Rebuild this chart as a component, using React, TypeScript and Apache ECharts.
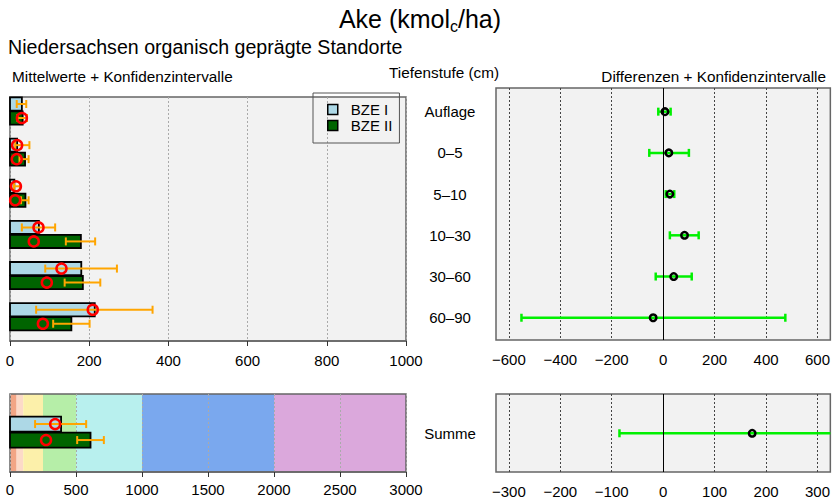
import React, { useEffect, useRef } from "react";
import * as echarts from "echarts";

// ---------- data ----------
const categories = ["Auflage", "0–5", "5–10", "10–30", "30–60", "60–90"];
const seriesNames = ["BZE I", "BZE II"];

const bze1Mean = [30, 18, 11, 73, 180, 214];
const bze1Median: (number | null)[] = [null, 18, 15, 72, 130, 209];
const bze1Lower = [17, 13, 10, 30, 89, 66];
const bze1Upper = [41, 49, 25, 114, 270, 360];

const bze2Mean = [32, 38, 39, 179, 184, 155];
const bze2Median: (number | null)[] = [30, 17, 13, 60, 93, 83];
const bze2Lower = [19, 24, 28, 141, 138, 109];
const bze2Upper = [43, 47, 47, 215, 228, 201];

const sumLabel = ["Summe"];
const sumMean = [387, 610]; // BZE I, BZE II
const sumMedian = [342, 273];
const sumLower = [190, 509];
const sumUpper = [577, 711];

const diffMean = [7, 22, 26, 83, 41, -39];
const diffLower = [-19, -54, 10, 26, -29, -551];
const diffUpper = [29, 100, 43, 138, 111, 475];
const sumDiffMean = [173];
const sumDiffLower = [-85];
const sumDiffUpper = [430];

const topLeftTicks = [0, 200, 400, 600, 800, 1000];
const bottomLeftTicks = [0, 500, 1000, 1500, 2000, 2500, 3000];
const topRightTicks = [-600, -400, -200, 0, 200, 400, 600];
const bottomRightTicks = [-300, -200, -100, 0, 100, 200, 300];

const classBreaks = [0, 50, 100, 250, 500, 1000, 2000, 3000];
const classColors = ["#f2a585", "#fcdac8", "#fcf0aa", "#b6eea8", "#b8f0ee", "#7aa8ee", "#dba8dc"];

// ---------- styles ----------
const FONT = "Liberation Sans, Arial, Helvetica, sans-serif";
const PANEL_BG = "#f2f2f2";
const FRAME = "#666";
const C_BZE1 = "#add8e6";
const C_BZE2 = "#006400";
const C_ORANGE = "#ffa500";
const C_GREEN = "#00f000";
const BAR_H = 0.32;
const OFF = 0.17;

const minus = (v: number) => String(v).replace("-", "−");

function barRender(fill: string) {
  return (params: any, api: any) => {
    const v = api.value(0);
    const p = api.value(1);
    const a = api.coord([0, p - BAR_H / 2]);
    const b = api.coord([v, p + BAR_H / 2]);
    return {
      type: "rect",
      shape: { x: a[0], y: Math.min(a[1], b[1]), width: b[0] - a[0], height: Math.abs(b[1] - a[1]) },
      style: { fill, stroke: "#000", lineWidth: 1.8 },
    };
  };
}

function errRender(color: string, cap: number, lw: number) {
  return (params: any, api: any) => {
    const cs = params.coordSys;
    const lo = api.coord([api.value(0), api.value(2)]);
    const hi = api.coord([api.value(1), api.value(2)]);
    const xmin = cs.x;
    const xmax = cs.x + cs.width;
    const x1 = Math.max(lo[0], xmin);
    const x2 = Math.min(hi[0], xmax);
    const y = lo[1];
    const st = { stroke: color, lineWidth: lw };
    const children: any[] = [{ type: "line", shape: { x1, y1: y, x2, y2: y }, style: st }];
    if (lo[0] >= xmin) children.push({ type: "line", shape: { x1: lo[0], y1: y - cap, x2: lo[0], y2: y + cap }, style: st });
    if (hi[0] <= xmax) children.push({ type: "line", shape: { x1: hi[0], y1: y - cap, x2: hi[0], y2: y + cap }, style: st });
    return { type: "group", children };
  };
}

function bandRender(params: any, api: any) {
  const cs = params.coordSys;
  const a = api.coord([api.value(0), 0]);
  const b = api.coord([api.value(1), 0]);
  return {
    type: "rect",
    shape: { x: a[0], y: cs.y, width: b[0] - a[0], height: cs.height },
    style: { fill: classColors[api.value(2)] },
  };
}

const redCircle = {
  type: "scatter",
  symbol: "circle",
  symbolSize: 10,
  itemStyle: { color: "rgba(0,0,0,0)", borderColor: "#ff0000", borderWidth: 2.5, opacity: 1 },
  z: 5,
  silent: true,
};
const blackCircle = {
  type: "scatter",
  symbol: "circle",
  symbolSize: 6.5,
  itemStyle: { color: "rgba(0,0,0,0)", borderColor: "#000", borderWidth: 2.5, opacity: 1 },
  z: 5,
  silent: true,
};

function leftXAxis(grid: number, max: number, interval: number, ticks: number[], margin: number) {
  return {
    type: "value",
    gridIndex: grid,
    min: 0,
    max,
    interval,
    z: grid === 1 ? 1.5 : 0,
    axisLine: { show: true, onZero: false, lineStyle: { color: FRAME, width: 1.5 } },
    axisTick: { show: true, length: 5, inside: false, lineStyle: { color: "#333", width: 1 } },
    axisLabel: {
      show: true,
      customValues: ticks,
      fontSize: 15,
      fontFamily: FONT,
      color: "#000",
      margin,
      formatter: (v: number) => String(v),
    },
    splitLine: { show: true, lineStyle: { color: "#aaa", type: [2, 2], width: 1 } },
  };
}

function rightXAxis(grid: number, lim: number, ticks: number[], margin: number) {
  return {
    type: "value",
    gridIndex: grid,
    min: -lim,
    max: lim,
    axisLine: { show: false, onZero: false },
    axisTick: { show: false, customValues: ticks },
    axisLabel: {
      show: true,
      customValues: ticks,
      fontSize: 15,
      fontFamily: FONT,
      color: "#000",
      margin,
      formatter: (v: number) => minus(v),
    },
    splitLine: { show: true, lineStyle: { color: "#444", type: [2, 2], width: 1 } },
  };
}

export default function App() {
  const ref = useRef<HTMLDivElement>(null);

  useEffect(() => {
    if (!ref.current) return;
    const chart = echarts.init(ref.current, null, { renderer: "svg" });

    const idx = categories.map((_, i) => i);
    const bandData = classBreaks.slice(0, -1).map((b, i) => [b, classBreaks[i + 1], i]);

    const medData = (arr: (number | null)[], off: number) =>
      arr.map((m, i) => (m == null ? null : [m, i + off])).filter((d) => d != null);

    const subTitleSize = 15.3;

    const option: any = {
      animation: false,
      backgroundColor: "#fff",
      textStyle: { fontFamily: FONT },
      graphic: [
        {
          type: "text",
          x: 420,
          y: 19,
          style: {
            text: "{a|Ake (kmol}{s|c}{a|/ha)}",
            rich: {
              a: { fontSize: 25, fontFamily: FONT, fill: "#000", verticalAlign: "middle", lineHeight: 28 },
              s: { fontSize: 16, fontFamily: FONT, fill: "#000", verticalAlign: "middle", lineHeight: 16, padding: [14, 0, 0, 0] },
            },
            textAlign: "center",
            textVerticalAlign: "middle",
          },
        },
        {
          type: "text",
          x: 8,
          y: 47,
          style: { text: "Niedersachsen organisch geprägte Standorte", fontSize: 19.6, fontFamily: FONT, fill: "#000", textVerticalAlign: "middle" },
        },
        {
          type: "text",
          x: 12,
          y: 76,
          style: { text: "Mittelwerte + Konfidenzintervalle", fontSize: subTitleSize, fontFamily: FONT, fill: "#000", textVerticalAlign: "middle" },
        },
        {
          type: "text",
          x: 444,
          y: 72,
          style: { text: "Tiefenstufe (cm)", fontSize: subTitleSize, fontFamily: FONT, fill: "#000", textAlign: "center", textVerticalAlign: "middle" },
        },
        {
          type: "text",
          x: 826,
          y: 76,
          style: { text: "Differenzen + Konfidenzintervalle", fontSize: subTitleSize, fontFamily: FONT, fill: "#000", textAlign: "right", textVerticalAlign: "middle" },
        },
      ],
      legend: {
        data: [
          { name: seriesNames[0], itemStyle: { color: C_BZE1, borderColor: "#000", borderWidth: 1.5 } },
          { name: seriesNames[1], itemStyle: { color: C_BZE2, borderColor: "#000", borderWidth: 1.5 } },
        ],
        orient: "vertical",
        left: 313,
        top: 93,
        padding: [9, 7, 10, 14],
        itemGap: 1,
        itemWidth: 10,
        itemHeight: 10,
        icon: "rect",
        borderColor: "#555",
        borderWidth: 1,
        selectedMode: false,
        textStyle: { fontSize: 15, fontFamily: FONT, color: "#000", padding: [0, 0, 0, 8] },
      },
      grid: [
        { left: 10, top: 97, width: 396, height: 244, show: true, backgroundColor: PANEL_BG, borderColor: FRAME, borderWidth: 1.5 },
        { left: 10, top: 394, width: 396, height: 78, show: true, backgroundColor: "rgba(0,0,0,0)", borderColor: FRAME, borderWidth: 1.5, z: 1.2 },
        { left: 496, top: 88, width: 335, height: 252, show: true, backgroundColor: PANEL_BG, borderColor: FRAME, borderWidth: 1.5 },
        { left: 496, top: 394, width: 335, height: 78, show: true, backgroundColor: PANEL_BG, borderColor: FRAME, borderWidth: 1.5 },
      ],
      xAxis: [
        leftXAxis(0, 1000, 200, topLeftTicks, 12),
        leftXAxis(1, 3000, 500, bottomLeftTicks, 10),
        rightXAxis(2, 650, topRightTicks, 12),
        rightXAxis(3, 325, bottomRightTicks, 12),
      ],
      yAxis: [
        { type: "value", gridIndex: 0, min: -0.34, max: 5.59, inverse: true, show: false },
        { type: "value", gridIndex: 1, min: -0.81, max: 0.85, inverse: true, show: false },
        {
          type: "value",
          gridIndex: 2,
          min: -0.574,
          max: 5.54,
          inverse: true,
          axisLine: { show: false, onZero: false },
          axisTick: { show: false },
          splitLine: { show: false },
          axisLabel: {
            show: true,
            customValues: idx,
            formatter: (v: number) => categories[Math.round(v)] ?? "",
            align: "center",
            margin: 46,
            fontSize: 15,
            fontFamily: FONT,
            color: "#000",
          },
        },
        {
          type: "value",
          gridIndex: 3,
          min: -0.836,
          max: 0.824,
          inverse: true,
          axisLine: { show: false, onZero: false },
          axisTick: { show: false },
          splitLine: { show: false },
          axisLabel: {
            show: true,
            customValues: [0],
            formatter: () => sumLabel[0],
            align: "center",
            margin: 46,
            fontSize: 15,
            fontFamily: FONT,
            color: "#000",
          },
        },
      ],
      series: [
        // class bands (bottom-left)
        { type: "custom", name: "Klassen", xAxisIndex: 1, yAxisIndex: 1, z: 1, silent: true, renderItem: bandRender, data: bandData },
        // top-left bars
        { type: "custom", name: seriesNames[0], xAxisIndex: 0, yAxisIndex: 0, z: 2, renderItem: barRender(C_BZE1), itemStyle: { color: C_BZE1 }, data: bze1Mean.map((v, i) => [v, i - OFF]) },
        { type: "custom", name: seriesNames[1], xAxisIndex: 0, yAxisIndex: 0, z: 2, renderItem: barRender(C_BZE2), itemStyle: { color: C_BZE2 }, data: bze2Mean.map((v, i) => [v, i + OFF]) },
        { type: "custom", name: "KI I", xAxisIndex: 0, yAxisIndex: 0, z: 3, renderItem: errRender(C_ORANGE, 4, 2), data: bze1Lower.map((l, i) => [l, bze1Upper[i], i - OFF]) },
        { type: "custom", name: "KI II", xAxisIndex: 0, yAxisIndex: 0, z: 3, renderItem: errRender(C_ORANGE, 4, 2), data: bze2Lower.map((l, i) => [l, bze2Upper[i], i + OFF]) },
        { ...redCircle, name: "Median I", xAxisIndex: 0, yAxisIndex: 0, data: medData(bze1Median, -OFF) },
        { ...redCircle, name: "Median II", xAxisIndex: 0, yAxisIndex: 0, data: medData(bze2Median, OFF) },
        // bottom-left bars
        { type: "custom", name: seriesNames[0], xAxisIndex: 1, yAxisIndex: 1, z: 2, renderItem: barRender(C_BZE1), itemStyle: { color: C_BZE1 }, data: [[sumMean[0], -OFF]] },
        { type: "custom", name: seriesNames[1], xAxisIndex: 1, yAxisIndex: 1, z: 2, renderItem: barRender(C_BZE2), itemStyle: { color: C_BZE2 }, data: [[sumMean[1], OFF]] },
        { type: "custom", name: "Summe KI", xAxisIndex: 1, yAxisIndex: 1, z: 3, renderItem: errRender(C_ORANGE, 4, 2), data: [[sumLower[0], sumUpper[0], -OFF], [sumLower[1], sumUpper[1], OFF]] },
        { ...redCircle, name: "Summe Median", xAxisIndex: 1, yAxisIndex: 1, data: [[sumMedian[0], -OFF], [sumMedian[1], OFF]] },
        // top-right differences
        {
          type: "custom",
          name: "Diff KI",
          xAxisIndex: 2,
          yAxisIndex: 2,
          z: 3,
          renderItem: errRender(C_GREEN, 4, 2.5),
          data: diffLower.map((l, i) => [l, diffUpper[i], i]),
          markLine: { silent: true, symbol: "none", label: { show: false }, lineStyle: { color: "#000", type: "solid", width: 1 }, data: [{ xAxis: 0 }] },
        },
        { ...blackCircle, name: "Diff", xAxisIndex: 2, yAxisIndex: 2, data: diffMean.map((v, i) => [v, i]) },
        // bottom-right sum difference
        {
          type: "custom",
          name: "Summe Diff KI",
          xAxisIndex: 3,
          yAxisIndex: 3,
          z: 3,
          renderItem: errRender(C_GREEN, 4, 2.5),
          data: sumDiffLower.map((l, i) => [l, sumDiffUpper[i], i]),
          markLine: { silent: true, symbol: "none", label: { show: false }, lineStyle: { color: "#000", type: "solid", width: 1 }, data: [{ xAxis: 0 }] },
        },
        { ...blackCircle, name: "Summe Diff", xAxisIndex: 3, yAxisIndex: 3, data: sumDiffMean.map((v, i) => [v, i]) },
      ],
    };

    chart.setOption(option);
    return () => chart.dispose();
  }, []);

  return <div ref={ref} style={{ position: "fixed", left: 0, top: 0, width: 833, height: 500, background: "#fff" }} />;
}
